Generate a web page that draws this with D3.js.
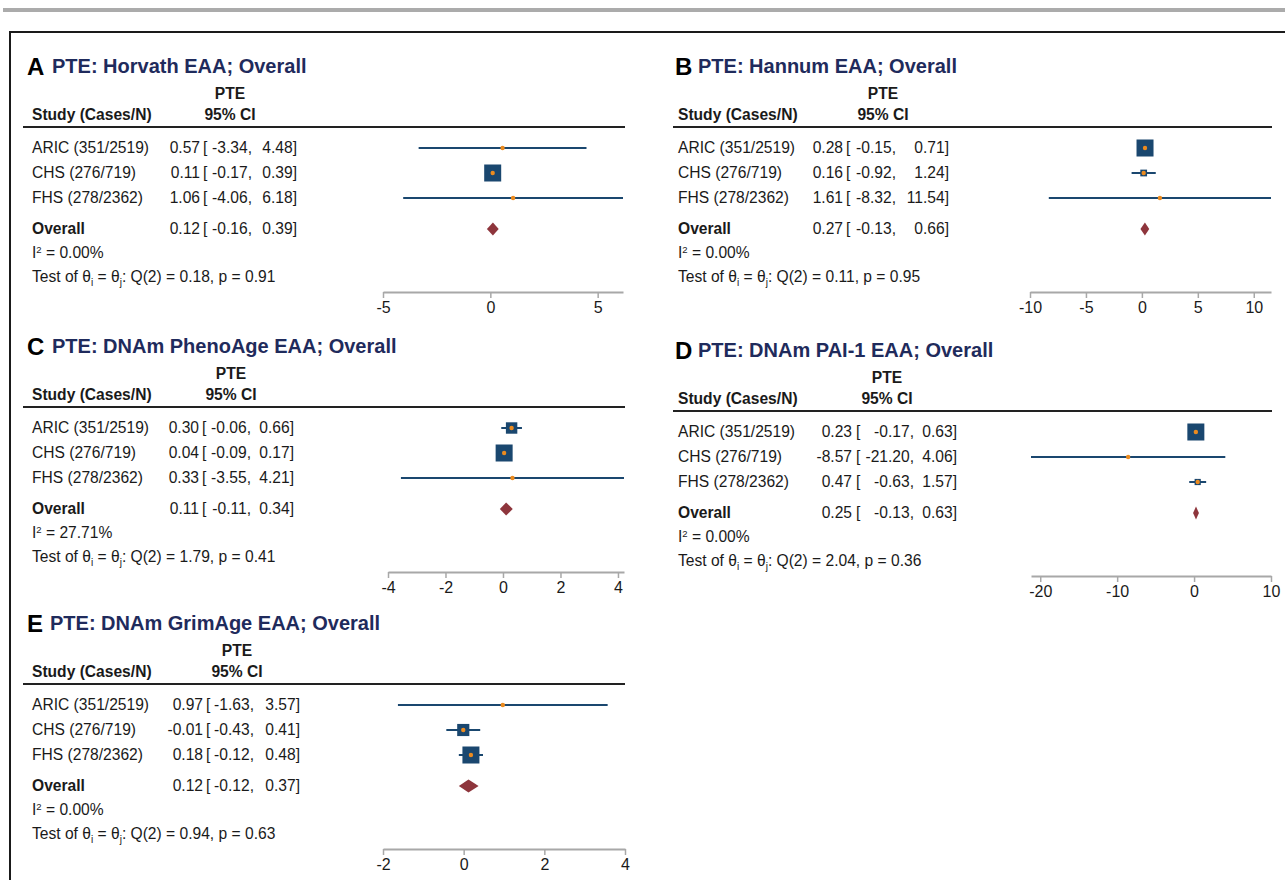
<!DOCTYPE html>
<html>
<head>
<meta charset="utf-8">
<script src="https://cdn.jsdelivr.net/npm/d3@7"></script>
<style>
  html, body { margin: 0; padding: 0; background: #fff; }
  svg { display: block; font-family: "Liberation Sans", Arial, Helvetica, sans-serif; }
</style>
</head>
<body>
<svg id="chart" width="1285" height="880"></svg>
<script>
// ---- data -------------------------------------------------------------
const studies = ["ARIC (351/2519)", "CHS (276/719)", "FHS (278/2362)"];
const panelLetters = ["A", "B", "C", "D", "E"];
const panelTitles = [
  "PTE: Horvath EAA; Overall",
  "PTE: Hannum EAA; Overall",
  "PTE: DNAm PhenoAge EAA; Overall",
  "PTE: DNAm PAI-1 EAA; Overall",
  "PTE: DNAm GrimAge EAA; Overall"
];
// per-study point estimates and 95% CI, one row per panel (ARIC, CHS, FHS)
const estimates = [[0.57, 0.11, 1.06], [0.28, 0.16, 1.61], [0.30, 0.04, 0.33], [0.23, -8.57, 0.47], [0.97, -0.01, 0.18]];
const lowerCI   = [[-3.34, -0.17, -4.06], [-0.15, -0.92, -8.32], [-0.06, -0.09, -3.55], [-0.17, -21.20, -0.63], [-1.63, -0.43, -0.12]];
const upperCI   = [[4.48, 0.39, 6.18], [0.71, 1.24, 11.54], [0.66, 0.17, 4.21], [0.63, 4.06, 1.57], [3.57, 0.41, 0.48]];
// study weights (%), shown as marker area
const weights   = [[0.51, 99.19, 0.30], [86.18, 13.66, 0.16], [31.0, 68.8, 0.2], [88.2, 0.09, 11.7], [0.87, 33.49, 65.64]];
// pooled estimates
const overallEst = [0.12, 0.27, 0.11, 0.25, 0.12];
const overallLo  = [-0.16, -0.13, -0.11, -0.13, -0.12];
const overallHi  = [0.39, 0.66, 0.34, 0.63, 0.37];
// heterogeneity
const i2Values = ["0.00", "0.00", "27.71", "0.00", "0.00"];
const qStats   = ["0.18", "0.11", "1.79", "2.04", "0.94"];
const pValues  = ["0.91", "0.95", "0.41", "0.36", "0.63"];
// x-axis tick labels
const axisTicks = [[-5, 0, 5], [-10, -5, 0, 5, 10], [-4, -2, 0, 2, 4], [-20, -10, 0, 10], [-2, 0, 2, 4]];

// ---- layout -----------------------------------------------------------
const layout = [
  // top: title centre y; letterX/titleX; study text x; estimate/CI column anchors; header centre; plot x-range
  { top: 66,  letterX: 27,  titleX: 52,  studyX: 32,  estR: 200, brX: 203, loR: 252, hiR: 297, hdrX: 230, ruleX: [23, 625],  plot: [383, 623] },
  { top: 66,  letterX: 675, titleX: 698, studyX: 678, estR: 843, brX: 846, loR: 896, hiR: 949, hdrX: 883, ruleX: [673, 1272], plot: [1030, 1271] },
  { top: 346, letterX: 27,  titleX: 52,  studyX: 32,  estR: 199, brX: 202, loR: 251, hiR: 294, hdrX: 231, ruleX: [23, 625],  plot: [388, 624] },
  { top: 350, letterX: 675, titleX: 698, studyX: 678, estR: 852, brX: 856, loR: 914, hiR: 957, hdrX: 887, ruleX: [673, 1272], plot: [1031, 1271] },
  { top: 623, letterX: 27,  titleX: 50,  studyX: 32,  estR: 203, brX: 206, loR: 254, hiR: 300, hdrX: 237, ruleX: [23, 625],  plot: [383, 625] }
];
const rowOffsets = [82, 107, 132];
const OFF = { pte: 28, study: 49, rule: 61, overall: 163, i2: 187, test: 211, axis: 226 };
const FS = { body: 15.6, title: 20, letter: 24, tick: 16 };

const COLORS = {
  title: "#1f2b5c", text: "#1a1a1a", navy: "#1a476f", dot: "#ec8b1f",
  diamond: "#8e353c", axis: "#a8a8a8", rule: "#222"
};

const svg = d3.select("#chart");

// page frame
svg.append("rect").attr("x", 3).attr("y", 8).attr("width", 1282).attr("height", 4).attr("fill", "#ababab");
svg.append("line").attr("x1", 9).attr("x2", 1285).attr("y1", 32).attr("y2", 32).attr("stroke", "#1a1a1a").attr("stroke-width", 2);
svg.append("line").attr("x1", 10).attr("x2", 10).attr("y1", 31).attr("y2", 880).attr("stroke", "#1a1a1a").attr("stroke-width", 2);

const fmt = v => v.toFixed(2);

panelLetters.forEach((letter, p) => {
  const L = layout[p];
  const g = svg.append("g");
  const t0 = L.top;

  // title
  g.append("text").attr("x", L.letterX).attr("y", t0).attr("dy", "0.36em")
    .attr("font-size", FS.letter).attr("font-weight", "bold").attr("fill", "#000").text(letter);
  g.append("text").attr("x", L.titleX).attr("y", t0).attr("dy", "0.36em")
    .attr("font-size", FS.title).attr("font-weight", "bold").attr("fill", COLORS.title).text(panelTitles[p]);

  // column headers
  const hdr = g.append("g").attr("font-size", FS.body).attr("font-weight", "bold").attr("fill", COLORS.text);
  hdr.append("text").attr("x", L.hdrX).attr("y", t0 + OFF.pte).attr("dy", "0.35em").attr("text-anchor", "middle").text("PTE");
  hdr.append("text").attr("x", L.studyX).attr("y", t0 + OFF.study).attr("dy", "0.35em").text("Study (Cases/N)");
  hdr.append("text").attr("x", L.hdrX).attr("y", t0 + OFF.study).attr("dy", "0.35em").attr("text-anchor", "middle").text("95% CI");
  g.append("line").attr("x1", L.ruleX[0]).attr("x2", L.ruleX[1])
    .attr("y1", t0 + OFF.rule).attr("y2", t0 + OFF.rule).attr("stroke", COLORS.rule).attr("stroke-width", 2);

  // text rows
  const body = g.append("g").attr("font-size", FS.body).attr("fill", COLORS.text);
  const ciRow = (y, est, lo, hi) => {
    body.append("text").attr("x", L.estR).attr("y", y).attr("dy", "0.35em").attr("text-anchor", "end").text(fmt(est));
    body.append("text").attr("x", L.brX).attr("y", y).attr("dy", "0.35em").text("[");
    body.append("text").attr("x", L.loR).attr("y", y).attr("dy", "0.35em").attr("text-anchor", "end").text(fmt(lo) + ",");
    body.append("text").attr("x", L.hiR).attr("y", y).attr("dy", "0.35em").attr("text-anchor", "end").text(fmt(hi) + "]");
  };
  studies.forEach((s, i) => {
    const y = t0 + rowOffsets[i];
    body.append("text").attr("x", L.studyX).attr("y", y).attr("dy", "0.35em").text(s);
    ciRow(y, estimates[p][i], lowerCI[p][i], upperCI[p][i]);
  });
  const yo = t0 + OFF.overall;
  body.append("text").attr("x", L.studyX).attr("y", yo).attr("dy", "0.35em").attr("font-weight", "bold").text("Overall");
  ciRow(yo, overallEst[p], overallLo[p], overallHi[p]);

  // heterogeneity lines
  const i2t = body.append("text").attr("x", L.studyX).attr("y", t0 + OFF.i2).attr("dy", "0.35em");
  i2t.append("tspan").text("I");
  i2t.append("tspan").attr("font-size", 9.5).attr("dy", -5).text("2");
  i2t.append("tspan").attr("dy", 5).text(" = " + i2Values[p] + "%");

  const tt = body.append("text").attr("x", L.studyX).attr("y", t0 + OFF.test).attr("dy", "0.35em");
  tt.append("tspan").text("Test of θ");
  tt.append("tspan").attr("font-size", 10).attr("dy", 4).text("i");
  tt.append("tspan").attr("dy", -4).text(" = θ");
  tt.append("tspan").attr("font-size", 10).attr("dy", 4).text("j");
  tt.append("tspan").attr("dy", -4).text(": Q(2) = " + qStats[p] + ", p = " + pValues[p]);

  // scales
  const allVals = lowerCI[p].concat(upperCI[p], axisTicks[p]);
  const x = d3.scaleLinear().domain(d3.extent(allVals)).range(L.plot);
  const size = d3.scaleSqrt().domain([0, d3.max(weights[p])]).range([0, 17]);

  // study markers
  const marks = g.append("g");
  studies.forEach((s, i) => {
    const y = t0 + rowOffsets[i];
    marks.append("line")
      .attr("x1", x(lowerCI[p][i])).attr("x2", x(upperCI[p][i]))
      .attr("y1", y).attr("y2", y)
      .attr("stroke", COLORS.navy).attr("stroke-width", 2);
    const side = size(weights[p][i]);
    marks.append("rect")
      .attr("x", x(estimates[p][i]) - side / 2).attr("y", y - side / 2)
      .attr("width", side).attr("height", side)
      .attr("fill", COLORS.navy);
    marks.append("circle")
      .attr("cx", x(estimates[p][i])).attr("cy", y).attr("r", 2.2)
      .attr("fill", COLORS.dot);
  });

  // pooled diamond
  const dh = 6.5;
  const pts = [
    [x(overallLo[p]), yo], [x(overallEst[p]), yo - dh],
    [x(overallHi[p]), yo], [x(overallEst[p]), yo + dh]
  ];
  marks.append("polygon").attr("points", pts.map(d => d.join(",")).join(" ")).attr("fill", COLORS.diamond);

  // x axis
  const axis = d3.axisBottom(x).tickValues(axisTicks[p]).tickSize(6).tickSizeOuter(0).tickPadding(4)
    .tickFormat(d => String(d));
  const ax = g.append("g").attr("transform", `translate(0,${t0 + OFF.axis})`).call(axis);
  ax.select(".domain").attr("stroke", COLORS.axis).attr("stroke-width", 2);
  ax.selectAll(".tick line").attr("stroke", COLORS.axis).attr("stroke-width", 1.5);
  ax.selectAll(".tick text").attr("font-size", FS.tick).attr("fill", COLORS.text)
    .attr("font-family", "\"Liberation Sans\", Arial, sans-serif");
});
</script>
</body>
</html>
